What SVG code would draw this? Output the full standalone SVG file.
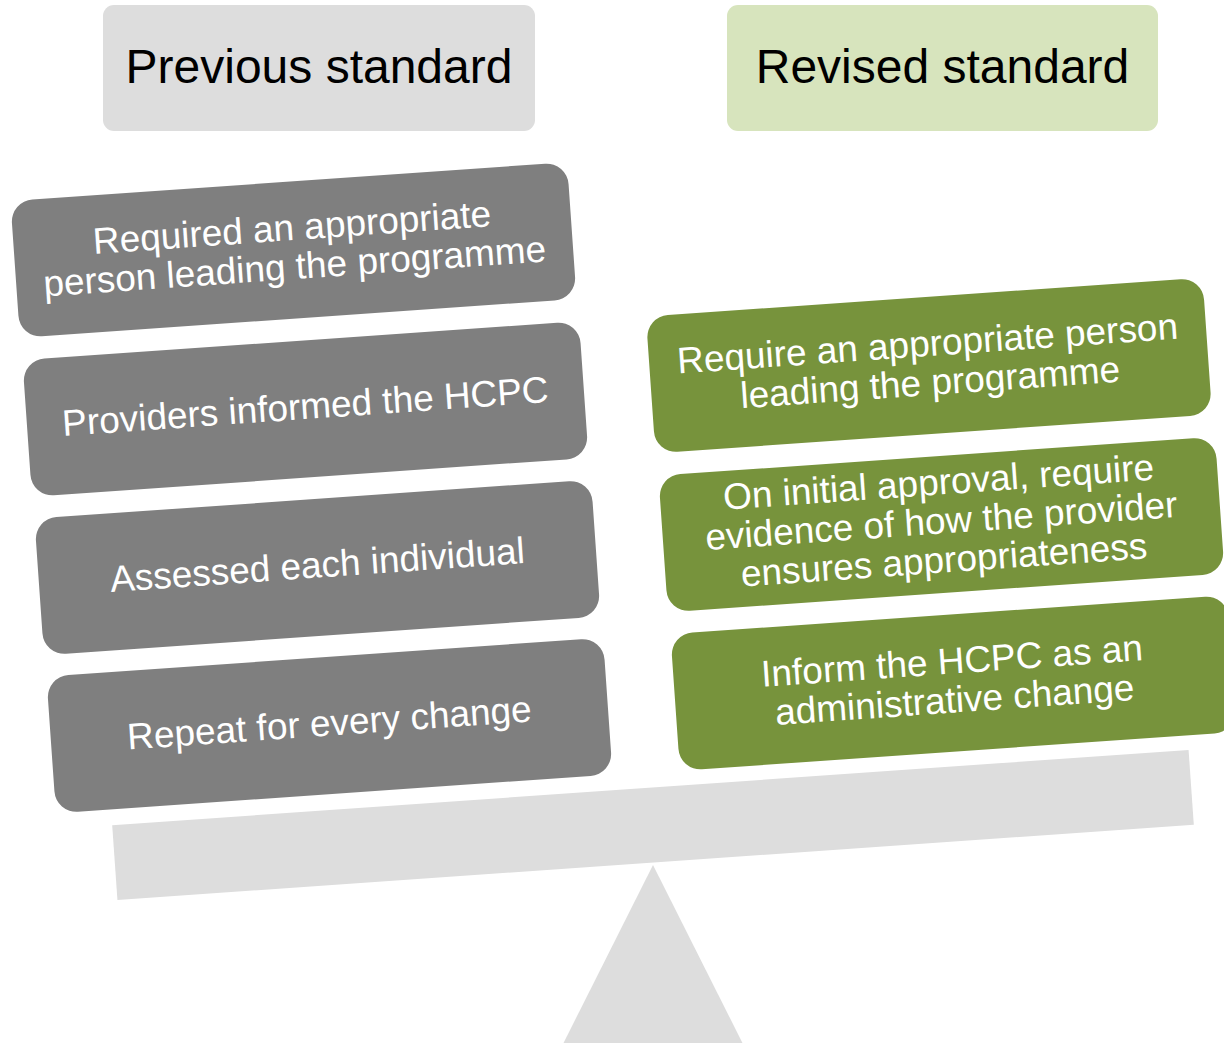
<svg xmlns="http://www.w3.org/2000/svg" width="1224" height="1043" viewBox="0 0 1224 1043">
<style>
.hdr{font-family:"Liberation Sans",Arial,sans-serif;font-size:48px;fill:#000;text-anchor:middle}
.bt{font-family:"Liberation Sans",Arial,sans-serif;font-size:37px;fill:#fff;text-anchor:middle}
.old{fill:#7F7F7F}
.new{fill:#77933C}
.scale{fill:#DDDDDD}
</style>
<rect width="1224" height="1043" fill="#fff"/>
<g id="scale">
<rect class="scale" x="-539.5" y="-37.5" width="1079" height="75" transform="translate(653,825) rotate(-4)"/>
<polygon class="scale" points="653,865 560,1050 746,1050"/>
</g>
<g id="hdr-prev">
<rect x="103" y="5" width="432" height="126" rx="11" fill="#DDDDDD"/>
<text class="hdr" x="319" y="83">Previous standard</text>
</g>
<g id="hdr-rev">
<rect x="727" y="5" width="431" height="126" rx="11" fill="#D7E4BD"/>
<text class="hdr" x="942.5" y="83">Revised standard</text>
</g>
<g id="old1" transform="translate(293.5,250) rotate(-4)">
<rect class="old" x="-279" y="-68.5" width="558" height="137" rx="22"/>
<text class="bt" x="0" y="-10">Required an appropriate</text>
<text class="bt" x="0" y="29">person leading the programme</text>
</g>
<g id="old2" transform="translate(305.5,409) rotate(-4)">
<rect class="old" x="-279" y="-68.5" width="558" height="137" rx="22"/>
<text class="bt" x="0" y="10">Providers informed the HCPC</text>
</g>
<g id="old3" transform="translate(317.5,567.5) rotate(-4)">
<rect class="old" x="-279" y="-68.5" width="558" height="137" rx="22"/>
<text class="bt" x="0" y="10">Assessed each individual</text>
</g>
<g id="old4" transform="translate(329.5,725.5) rotate(-4)">
<rect class="old" x="-279" y="-68.5" width="558" height="137" rx="22"/>
<text class="bt" x="0" y="10">Repeat for every change</text>
</g>
<g id="new1" transform="translate(929,365.5) rotate(-4)">
<rect class="new" x="-279" y="-68.5" width="558" height="137" rx="22"/>
<text class="bt" x="0" y="-9.5">Require an appropriate person</text>
<text class="bt" x="0" y="29.5">leading the programme</text>
</g>
<g id="new2" transform="translate(941.5,524.5) rotate(-4)">
<rect class="new" x="-279" y="-68.5" width="558" height="137" rx="22"/>
<text class="bt" x="0" y="-30">On initial approval, require</text>
<text class="bt" x="0" y="9">evidence of how the provider</text>
<text class="bt" x="0" y="48">ensures appropriateness</text>
</g>
<g id="new3" transform="translate(953.5,683) rotate(-4)">
<rect class="new" x="-279" y="-68.5" width="558" height="137" rx="22"/>
<text class="bt" x="0" y="-9.5">Inform the HCPC as an</text>
<text class="bt" x="0" y="29.5">administrative change</text>
</g>
<g id="connectors"></g>
</svg>
